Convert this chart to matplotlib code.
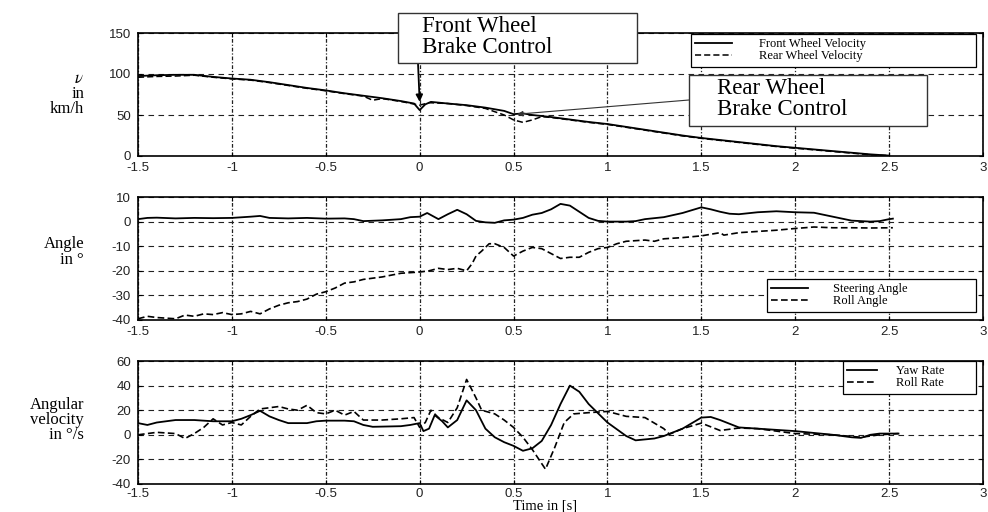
import matplotlib.pyplot as plt
from matplotlib.patches import Rectangle

# Braking manoeuvre: wheel speeds, angles and angular rates over time

t_front_v = [-1.5, -1.4, -1.3, -1.2, -1.1, -1.0, -0.9, -0.8, -0.7, -0.6, -0.5, -0.4, -0.3, -0.2, -0.1,
             -0.03, 0.0, 0.03, 0.06, 0.15, 0.25, 0.35, 0.45, 0.5, 0.55, 0.6, 0.7, 0.8, 0.9, 1.0,
             1.1, 1.2, 1.3, 1.4, 1.5, 1.6, 1.7, 1.8, 1.9, 2.0, 2.1, 2.2, 2.3, 2.4, 2.5]
front_v = [97.5, 98.5, 99, 99, 96.5, 94.5, 93, 90, 86.5, 83, 80, 76.5, 73.5, 70.5, 67,
           64, 56, 63, 66, 64, 62, 59, 55, 51, 52, 50, 47.5, 44.5, 41.5, 39,
           35.5, 32, 28.5, 25, 22, 19.5, 17, 14.5, 12, 10, 8, 6, 4, 2, 0.5]

t_rear_v = [-1.5, -1.4, -1.3, -1.2, -1.1, -1.0, -0.9, -0.8, -0.7, -0.6, -0.5, -0.4, -0.3, -0.25,
            -0.2, -0.1, 0.0, 0.05, 0.15, 0.25, 0.35, 0.45, 0.5, 0.55, 0.6, 0.65, 0.7, 0.8, 0.9,
            1.0, 1.1, 1.2, 1.3, 1.4, 1.5, 1.6, 1.7, 1.8, 1.9, 2.0, 2.1, 2.2, 2.3, 2.4, 2.5]
rear_v = [96, 97, 97.5, 98.5, 96, 94, 92.5, 89.5, 86, 82.5, 79.5, 76, 73, 68,
          70, 66.5, 62, 65, 64, 61.5, 58, 50, 44, 41, 44, 48, 47, 44, 41,
          38.5, 35, 31.5, 28, 24.5, 21.5, 19, 16.5, 14, 11.5, 9.5, 7.5, 5.5, 3.5, 1.5, 0.5]

t_steer = [-1.5, -1.45, -1.4, -1.3, -1.2, -1.1, -1.0, -0.9, -0.85, -0.8, -0.7, -0.6, -0.5, -0.4,
           -0.35, -0.3, -0.2, -0.1, -0.05, 0.0, 0.04, 0.1, 0.15, 0.2, 0.25, 0.3, 0.35, 0.4, 0.45,
           0.5, 0.55, 0.6, 0.65, 0.7, 0.75, 0.8, 0.85, 0.9, 0.95, 1.0, 1.1, 1.15, 1.2, 1.3, 1.4,
           1.5, 1.55, 1.6, 1.65, 1.7, 1.8, 1.9, 2.0, 2.1, 2.2, 2.3, 2.4, 2.45, 2.5, 2.52]
steer = [1.0, 1.5, 1.6, 1.3, 1.5, 1.4, 1.5, 2.0, 2.3, 1.5, 1.3, 1.5, 1.2, 1.3,
         1.0, 0.2, 0.5, 1.0, 1.8, 2.0, 3.5, 1.0, 3.0, 4.8, 3.0, 0.3, -0.3, -0.5, 0.5,
         0.8, 1.5, 2.8, 3.5, 5.0, 7.2, 6.5, 4.0, 1.5, 0.3, 0.0, 0.0, 0.2, 1.0, 1.8, 3.5,
         5.8, 5.0, 4.0, 3.2, 3.0, 3.8, 4.2, 3.8, 3.6, 2.0, 0.4, 0.0, 0.2, 1.0, 1.2]

t_roll = [-1.5, -1.45, -1.4, -1.3, -1.25, -1.2, -1.15, -1.1, -1.05, -1.0, -0.95, -0.9, -0.85,
          -0.8, -0.75, -0.7, -0.65, -0.6, -0.55, -0.5, -0.45, -0.4, -0.35, -0.3, -0.25, -0.2,
          -0.1, 0.0, 0.05, 0.1, 0.15, 0.2, 0.25, 0.28, 0.3, 0.33, 0.37, 0.4, 0.45, 0.5, 0.55,
          0.6, 0.65, 0.7, 0.75, 0.8, 0.85, 0.9, 0.95, 1.0, 1.05, 1.1, 1.2, 1.25, 1.3, 1.4, 1.5,
          1.6, 1.62, 1.7, 1.8, 1.9, 2.0, 2.1, 2.2, 2.3, 2.4, 2.52]
roll = [-39.5, -38.5, -39, -39.5, -38, -38.5, -37.5, -37.8, -37, -37.8, -37.5, -36.5, -37.5,
        -35.5, -34, -33, -32.5, -31.5, -29.5, -28.5, -27, -25, -24.5, -23.5, -23, -22.5,
        -21, -20.5, -20, -19, -19.5, -19, -20, -17, -14, -12, -9, -9, -10.5, -14, -12,
        -10.5, -11, -13, -15, -14.5, -14.5, -12.5, -11, -10.5, -9, -8, -7.5, -8, -7, -6.5, -5.8,
        -4.5, -5.5, -4.5, -4, -3.5, -2.8, -2.2, -2.5, -2.5, -2.6, -2.5]

t_yaw = [-1.5, -1.45, -1.4, -1.3, -1.2, -1.1, -1.0, -0.95, -0.9, -0.85, -0.8, -0.75, -0.7, -0.6,
         -0.55, -0.5, -0.4, -0.35, -0.3, -0.25, -0.1, -0.05, 0.0, 0.02, 0.05, 0.08, 0.12, 0.15,
         0.2, 0.25, 0.3, 0.35, 0.4, 0.45, 0.5, 0.55, 0.6, 0.65, 0.7, 0.75, 0.8, 0.85, 0.9, 1.0,
         1.1, 1.15, 1.25, 1.3, 1.4, 1.5, 1.55, 1.6, 1.7, 1.8, 1.9, 2.0, 2.1, 2.2, 2.3, 2.35,
         2.4, 2.45, 2.55]
yaw = [9.5, 8, 10, 12, 12, 11, 11, 13, 16, 19.5, 15, 12, 9.5, 9.5,
       11, 11.5, 11.5, 11, 8, 6.5, 7, 8, 9.5, 3, 5, 16, 11, 6,
       12, 28, 20, 5, -2, -6, -9, -13, -11, -5, 8, 25, 40, 35, 25, 10,
       -1, -4.5, -3, -1, 5, 14, 14.5, 12, 6, 5, 4, 3, 1.5, 0, -2, -2.5,
       0, 1, 1]

t_rollrate = [-1.5, -1.45, -1.4, -1.35, -1.3, -1.25, -1.2, -1.15, -1.1, -1.05, -1.0, -0.95, -0.9,
              -0.85, -0.8, -0.75, -0.7, -0.65, -0.6, -0.55, -0.5, -0.45, -0.4, -0.35, -0.3, -0.2,
              -0.1, -0.03, 0.0, 0.03, 0.06, 0.1, 0.15, 0.2, 0.25, 0.3, 0.33, 0.4, 0.45, 0.5, 0.55,
              0.6, 0.67, 0.72, 0.77, 0.82, 0.9, 1.0, 1.1, 1.2, 1.3, 1.33, 1.4, 1.5, 1.6, 1.7, 1.8,
              2.0, 2.2, 2.35, 2.45, 2.55]
rollrate = [0, 1, 2, 1.5, 1, -3, 1, 6, 13, 8, 10, 8, 15,
            21, 22, 23, 21, 20, 24, 18, 17, 20, 16, 19, 12, 12,
            13, 14, 6, 10, 20, 14, 10, 22, 45, 30, 20, 17, 12, 6, -2,
            -12, -28, -10, 10, 17, 18, 19, 15, 14, 5, 0.5, 5, 9.5, 3.5, 5.5, 5,
            1, 0, -2, 0, 1]

x_ticks = [-1.5, -1, -0.5, 0, 0.5, 1, 1.5, 2, 2.5, 3]
x_tick_labels = ['-1.5', '-1', '-0.5', '0', '0.5', '1', '1.5', '2', '2.5', '3']

plt.rcParams['mathtext.fontset'] = 'stix'

W, H = 988, 512
fig = plt.figure(figsize=(W / 100, H / 100), dpi=100)

serif = ['Liberation Serif', 'DejaVu Serif']
sans = ['Liberation Sans', 'DejaVu Sans']


def fx(px):
    return px / W


def fy(py):
    return 1 - py / H


def make_axes(top_px, bottom_px, ylim, yticks, xpad=3):
    ax = fig.add_axes([fx(138), fy(bottom_px), fx(983 - 138), (bottom_px - top_px) / H])
    ax.set_xlim(-1.5, 3)
    ax.set_ylim(*ylim)
    ax.set_xticks(x_ticks)
    ax.set_xticklabels(x_tick_labels)
    ax.set_yticks(yticks)
    ax.set_yticklabels([str(v) for v in yticks])
    for lab in ax.get_xticklabels() + ax.get_yticklabels():
        lab.set_family(sans)
        lab.set_fontsize(9.5)
        lab.set_color('#222222')
    ax.tick_params(direction='in', top=True, right=True, length=3, width=0.8)
    ax.tick_params(axis='x', pad=xpad)
    ax.tick_params(axis='y', pad=5)
    for s in ax.spines.values():
        s.set_linewidth(1.2)
    ax.xaxis.grid(True, color='#222222', lw=0.9, linestyle=(0, (3, 1.5, 1, 1.5)))
    ax.yaxis.grid(True, color='#222222', lw=0.8, linestyle=(0, (5, 4)))
    ax.set_axisbelow(True)
    return ax


def add_legend(ax, left_px, top_px, width_px, hl, htp):
    leg = ax.legend(loc='upper left', bbox_to_anchor=(fx(left_px), fy(top_px), width_px / W, 0.01),
                    bbox_transform=fig.transFigure, mode='expand', borderaxespad=0,
                    fancybox=False, edgecolor='black', framealpha=1,
                    prop={'family': serif, 'size': 9}, handlelength=hl, handletextpad=htp,
                    labelspacing=0.0, borderpad=0.35)
    leg.get_frame().set_linewidth(0.9)
    return leg


# Wheel velocities
ax1 = make_axes(33, 156, (0, 150), [0, 50, 100, 150], xpad=4)
ax1.plot(t_front_v, front_v, color='black', lw=1.3, label='Front Wheel Velocity')
ax1.plot(t_rear_v, rear_v, color='black', lw=1.1, linestyle=(0, (4, 2)), label='Rear Wheel Velocity')
add_legend(ax1, 691, 39, 285, 2.9, 2.2)

# Steering and roll angle
ax2 = make_axes(197, 320, (-40, 10), [-40, -30, -20, -10, 0, 10], xpad=4)
ax2.plot(t_steer, steer, color='black', lw=1.3, label='Steering Angle')
ax2.plot(t_roll, roll, color='black', lw=1.2, linestyle=(0, (4, 2)), label='Roll Angle')
add_legend(ax2, 767, 284, 209, 2.9, 2.0)

# Yaw and roll rate
ax3 = make_axes(361, 484, (-40, 60), [-40, -20, 0, 20, 40, 60])
ax3.plot(t_yaw, yaw, color='black', lw=1.3, label='Yaw Rate')
ax3.plot(t_rollrate, rollrate, color='black', lw=1.2, linestyle=(0, (4, 2)), label='Roll Rate')
add_legend(ax3, 843, 366, 133, 2.4, 1.5)

# Y axis labels
label_kw = dict(ha='right', va='center', multialignment='right', family=serif, fontsize=12,
                linespacing=0.95)
fig.text(fx(84), fy(94), '$\\nu$\nin\nkm/h', **label_kw)
fig.text(fx(84), fy(252), 'Angle\nin °', **label_kw)
fig.text(fx(84), fy(420), 'Angular\nvelocity\nin °/s', **label_kw)
fig.text(fx(513), fy(509), 'Time in [s]', ha='left', va='baseline', family=serif, fontsize=10.5)

# Brake control callouts
fig.patches.append(Rectangle((fx(398), fy(63)), fx(637 - 398), (63 - 13) / H, transform=fig.transFigure,
                             facecolor='white', edgecolor='#333333', lw=1.0, zorder=5))
fig.text(fx(422), fy(37), 'Front Wheel\nBrake Control', ha='left', va='center', family=serif,
         fontsize=16.5, linespacing=0.95, zorder=6)
fig.patches.append(Rectangle((fx(689), fy(126)), fx(927 - 689), (126 - 75) / H, transform=fig.transFigure,
                             facecolor='white', edgecolor='#333333', lw=1.0, zorder=5))
fig.text(fx(717), fy(99), 'Rear Wheel\nBrake Control', ha='left', va='center', family=serif,
         fontsize=16.5, linespacing=0.95, zorder=6)

ax1.annotate('', xy=(0, 66), xycoords='data', xytext=(fx(418), fy(63)), textcoords='figure fraction',
             arrowprops=dict(arrowstyle='-|>', color='black', lw=1.3, mutation_scale=10,
                             shrinkA=0, shrinkB=0), annotation_clip=False)
ax1.annotate('', xy=(0.52, 51), xycoords='data', xytext=(fx(689), fy(100)), textcoords='figure fraction',
             arrowprops=dict(arrowstyle='-|>', color='#333333', lw=0.8, mutation_scale=8,
                             shrinkA=0, shrinkB=0), annotation_clip=False)

fig.savefig('out.png', dpi=100)
